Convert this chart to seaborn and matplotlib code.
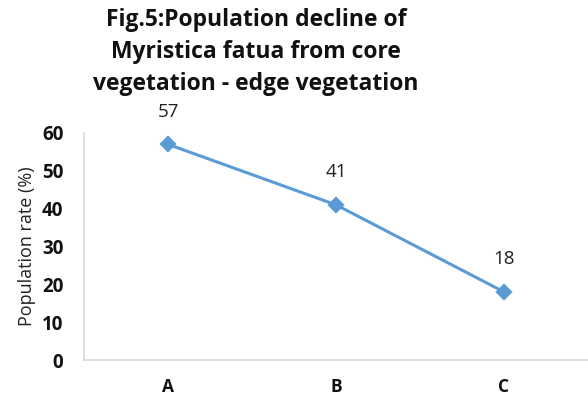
import numpy as np
import matplotlib
matplotlib.use("Agg")
import matplotlib.pyplot as plt
import seaborn as sns

# ========================
# DATA
# ========================
sites     = ["A", "B", "C"]
pop_rate  = [57, 41, 18]
y_ticks   = [0, 10, 20, 30, 40, 50, 60]

LINE_COLOR = "#5B9BD5"
AXIS_COLOR = "#D9D9D9"

sns.set_style("white")
plt.rcParams['font.family'] = ['Open Sans', 'DejaVu Sans']

fig = plt.figure(figsize=(5.88, 4.0), dpi=100)
ax = fig.add_axes([0.143, 0.10, 0.857, 0.5675])

sns.pointplot(x=sites, y=pop_rate, ax=ax, color=LINE_COLOR,
              markers="D", markersize=7, linewidth=2.2)

# data labels
for i, v in enumerate(pop_rate):
    ax.annotate(str(v), (i, v), xytext=(0, 17), textcoords="offset points",
                ha="center", va="bottom", fontsize=13.5, color="#222222")

ax.set_ylim(0, 60)
ax.set_xlim(-0.5, 2.5)
ax.set_yticks(y_ticks)
ax.tick_params(axis="both", length=0, labelsize=13.5, colors="#111111")
for lab in ax.get_xticklabels() + ax.get_yticklabels():
    lab.set_fontweight("bold")
ax.tick_params(axis="y", pad=15)
ax.tick_params(axis="x", pad=13, labelsize=12.5)

ax.set_ylabel("Population rate (%)", fontsize=13, color="#222222", labelpad=4)
ax.set_xlabel("")

sns.despine(ax=ax, top=True, right=True)
for side in ["left", "bottom"]:
    ax.spines[side].set_color(AXIS_COLOR)
    ax.spines[side].set_linewidth(1.2)

fig.text(0.435, 0.98,
         "Fig.5:Population decline of\nMyristica fatua from core\nvegetation - edge vegetation",
         ha="center", va="top", fontsize=16.5, fontweight="bold",
         linespacing=1.45, color="#111111")

plt.savefig("out.png", dpi=100)
